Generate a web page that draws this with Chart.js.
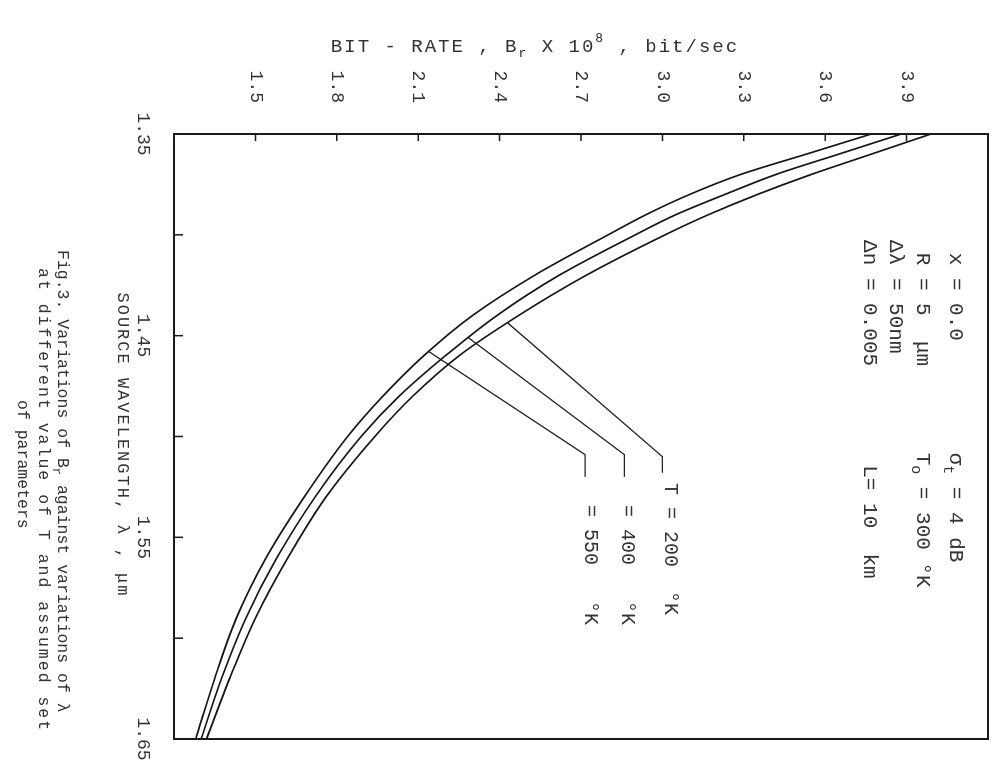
<!DOCTYPE html>
<html>
<head>
<meta charset="utf-8">
<script src="https://cdn.jsdelivr.net/npm/chart.js@4.4.0/dist/chart.umd.min.js"></script>
<style>
  html, body { margin: 0; padding: 0; background: #fff; overflow: hidden; }
  /* la figura original esta girada 90 grados en el escaneo */
  #giro { position: absolute; left: 0; top: 0; width: 766px; height: 994px;
          transform-origin: 0 0; transform: translate(994px, 0) rotate(90deg); }
</style>
</head>
<body>
<div id="giro"><canvas id="grafica" width="766" height="994"></canvas></div>
<script>
const longitudOnda = [1.35, 1.36, 1.37, 1.38, 1.39, 1.40, 1.42, 1.44, 1.46, 1.48, 1.50, 1.53, 1.56, 1.59, 1.62, 1.65];
const bitRateT200 = [3.99, 3.77, 3.55, 3.35, 3.17, 3.01, 2.72, 2.47, 2.25, 2.08, 1.94, 1.76, 1.62, 1.50, 1.405, 1.32];
const bitRateT400 = [3.88, 3.65, 3.42, 3.23, 3.05, 2.90, 2.62, 2.39, 2.20, 2.03, 1.89, 1.72, 1.58, 1.465, 1.375, 1.30];
const bitRateT550 = [3.77, 3.53, 3.29, 3.10, 2.94, 2.80, 2.53, 2.30, 2.12, 1.97, 1.84, 1.68, 1.54, 1.43, 1.35, 1.28];

// lineas guia de las etiquetas de T (lambda, bit-rate)
const guiaT200 = [[1.4437, 2.43], [1.510, 3.00], [1.518, 3.00]];
const guiaT400 = [[1.451, 2.285], [1.509, 2.86], [1.520, 2.86]];
const guiaT550 = [[1.458, 2.14], [1.509, 2.715], [1.520, 2.715]];

const etiquetasX = ['1.35', '', '1.45', '', '1.55', '', '1.65'];
const etiquetasY = ['', '1.5', '1.8', '2.1', '2.4', '2.7', '3.0', '3.3', '3.6', '3.9', ''];

const FUENTE = '"Liberation Mono", "DejaVu Sans Mono", monospace';
const TINTA = '#333';

function textoRico(ctx, partes, x, y, size, centrado) {
    // partes: [texto, 0 normal | 1 subindice | 2 superindice]
    const fuente = p => `${p[1] ? Math.round(size * 0.7) : size}px ${FUENTE}`;
    let total = 0;
    partes.forEach(p => { ctx.font = fuente(p); total += ctx.measureText(p[0]).width; });
    let cx = centrado ? x - total / 2 : x;
    partes.forEach(p => {
        ctx.font = fuente(p);
        const dy = p[1] === 1 ? size * 0.35 : (p[1] === 2 ? -size * 0.45 : 0);
        ctx.fillText(p[0], cx, y + dy);
        cx += ctx.measureText(p[0]).width;
    });
}

const marco = {
    id: 'marco',
    afterDraw(chart) {
        const { ctx, chartArea: a, scales: { x, y } } = chart;
        ctx.save();
        ctx.strokeStyle = '#1a1a1a';
        ctx.lineWidth = 2;
        ctx.strokeRect(a.left, a.top, a.right - a.left, a.bottom - a.top);
        ctx.lineWidth = 1.5;
        ctx.beginPath();
        x.ticks.forEach(t => {
            const px = x.getPixelForValue(t.value);
            ctx.moveTo(px, a.bottom);
            ctx.lineTo(px, a.bottom - 9);
        });
        y.ticks.forEach(t => {
            const py = y.getPixelForValue(t.value);
            ctx.moveTo(a.left, py);
            ctx.lineTo(a.left + 7, py);
        });
        ctx.stroke();
        ctx.restore();
    }
};

const notas = {
    id: 'notas',
    afterDraw(chart) {
        const { ctx, scales: { x, y } } = chart;
        ctx.save();
        ctx.fillStyle = TINTA;
        ctx.textBaseline = 'middle';
        ctx.textAlign = 'left';

        ctx.save();
        ctx.letterSpacing = '2px';
        ctx.translate(47, 459);
        ctx.rotate(-Math.PI / 2);
        textoRico(ctx, [['BIT - RATE , B', 0], ['r', 1], [' X 10', 0], ['8', 2], [' , bit/sec', 0]], 0, 0, 19, true);
        ctx.restore();

        ctx.letterSpacing = '2px';
        textoRico(ctx, [['SOURCE WAVELENGTH, \u03bb , \u03bcm', 0]], 445, 871, 17, true);

        ctx.letterSpacing = '0px';
        const parametros = [
            [1.4026, 4.08, [[' x = 0.0', 0]]],
            [1.4026, 3.96, [[' R = 5  \u03bcm', 0]]],
            [1.4026, 3.86, [['\u0394\u03bb = 50nm', 0]]],
            [1.4026, 3.765, [['\u0394n = 0.005', 0]]],
            [1.508, 4.08, [['\u03c3', 0], ['t', 1], [' = 4 dB', 0]]],
            [1.508, 3.96, [['T', 0], ['o', 1], [' = 300 \u00b0K', 0]]],
            [1.508, 3.765, [[' L= 10  km', 0]]]
        ];
        parametros.forEach(([l, b, partes]) => {
            textoRico(ctx, partes, x.getPixelForValue(l), y.getPixelForValue(b), 21, false);
        });

        const etiquetasT = [
            [1.523, 3.03, 'T = 200  \u00b0K'],
            [1.534, 2.87, '= 400   \u00b0K'],
            [1.534, 2.735, '= 550   \u00b0K']
        ];
        etiquetasT.forEach(([l, b, t]) => {
            textoRico(ctx, [[t, 0]], x.getPixelForValue(l), y.getPixelForValue(b), 20, false);
        });

        // pie de figura, con sangrias como en el original
        ctx.letterSpacing = '0px';
        textoRico(ctx, [['Fig.3. Variations of B', 0], ['r', 1], [' against variations of \u03bb', 0]], 250, 932, 16.5, false);
        ctx.letterSpacing = '2px';
        textoRico(ctx, [['at different value of T and assumed set', 0]], 268, 951, 16.5, false);
        ctx.letterSpacing = '0px';
        textoRico(ctx, [['of parameters', 0]], 400, 972, 16.5, false);
        ctx.restore();
    }
};

const curva = (valores, etiqueta) => ({
    label: etiqueta,
    data: longitudOnda.map((l, i) => ({ x: l, y: valores[i] })),
    borderColor: '#151515',
    borderWidth: 1.7,
    pointRadius: 0,
    cubicInterpolationMode: 'monotone',
    fill: false
});

const guia = (puntos) => ({
    data: puntos.map(p => ({ x: p[0], y: p[1] })),
    borderColor: '#222',
    borderWidth: 1.3,
    pointRadius: 0,
    tension: 0,
    fill: false
});

const fuenteTicks = { family: FUENTE, size: 18 };

const instancia = document.getElementById('grafica').getContext('2d');
const grafica = new Chart(instancia, {
    type: 'line',
    data: {
        datasets: [
            curva(bitRateT200, 'T = 200'),
            curva(bitRateT400, 'T = 400'),
            curva(bitRateT550, 'T = 550'),
            guia(guiaT200),
            guia(guiaT400),
            guia(guiaT550)
        ]
    },
    options: {
        responsive: false,
        animation: false,
        layout: { padding: { top: 6, right: 27, left: 0, bottom: 0 } },
        plugins: { legend: { display: false }, tooltip: { enabled: false } },
        scales: {
            x: {
                type: 'linear',
                min: 1.35,
                max: 1.65,
                ticks: {
                    stepSize: 0.05,
                    autoSkip: false,
                    maxRotation: 0,
                    padding: 20,
                    color: TINTA,
                    font: fuenteTicks,
                    callback: (v, i) => etiquetasX[i] ?? ''
                },
                grid: { display: false, drawTicks: false },
                border: { display: false },
                afterFit: s => { s.height = 174; s.paddingLeft = 0; s.paddingRight = 0; }
            },
            y: {
                min: 1.2,
                max: 4.2,
                ticks: {
                    stepSize: 0.3,
                    autoSkip: false,
                    padding: 31,
                    color: TINTA,
                    font: fuenteTicks,
                    callback: (v, i) => etiquetasY[i] ?? ''
                },
                grid: { display: false, drawTicks: false },
                border: { display: false },
                afterFit: s => { s.width = 134; s.paddingTop = 0; s.paddingBottom = 0; }
            }
        }
    },
    plugins: [marco, notas]
});
</script>
</body>
</html>
